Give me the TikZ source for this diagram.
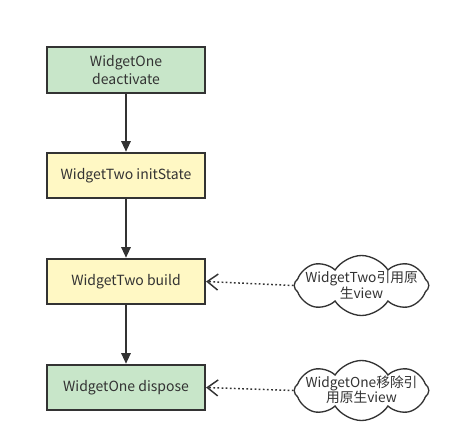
\documentclass[tikz,border=0pt]{standalone}
\usepackage{fontspec}
\setmainfont{Noto Sans CJK SC}
\usetikzlibrary{arrows.meta,shapes.symbols}
\definecolor{boxgreen}{HTML}{C8E6C9}
\definecolor{boxyellow}{HTML}{FFF8C4}
\definecolor{edgegray}{HTML}{333333}
\begin{document}
\begin{tikzpicture}[x=0.75pt,y=-0.75pt,
  stepbox/.style={draw=edgegray,line width=1.6pt,minimum width=118.5pt,minimum height=34pt,inner sep=0pt,align=center,font=\fontsize{10.5}{13}\selectfont,text=edgegray},
  greenbox/.style={stepbox,fill=boxgreen},
  yellowbox/.style={stepbox,fill=boxyellow},
  note/.style={cloud,cloud puffs=8,cloud puff arc=115,cloud ignores aspect,draw=edgegray,line width=1pt,fill=white,minimum width=101pt,minimum height=45pt,inner sep=0pt},
  notetext/.style={align=center,inner sep=0pt,font=\fontsize{10.3}{11.5}\selectfont,text=edgegray},
  flow/.style={draw=edgegray,line width=1.4pt,-{Triangle[length=8pt,width=7pt]}},
  ref/.style={draw=edgegray,line width=1.1pt,dash pattern=on 1.3pt off 1.8pt,-{Straight Barb[length=8pt,width=12pt]}}]
\useasboundingbox (0,0) rectangle (463,445);
\node[greenbox] (a) at (126,70) {WidgetOne\\deactivate};
\node[yellowbox] (b) at (126,175.5) {WidgetTwo initState};
\node[yellowbox] (c) at (126,281.5) {WidgetTwo build};
\node[greenbox] (d) at (126,387.5) {WidgetOne dispose};
\node[note] (e) at (361.5,285.5) {};
\node[notetext] (et) at (361.5,285) {WidgetTwo引用原\\生view};
\node[note] (f) at (361.5,390.5) {};
\node[notetext] (ft) at (361.5,390) {WidgetOne移除引\\用原生view};
\draw[flow] (a) -- (b);
\draw[flow] (b) -- (c);
\draw[flow] (c) -- (d);
\draw[ref] (e.west) -- (c.east);
\draw[ref] (f.west) -- (d.east);
\end{tikzpicture}
\end{document}
